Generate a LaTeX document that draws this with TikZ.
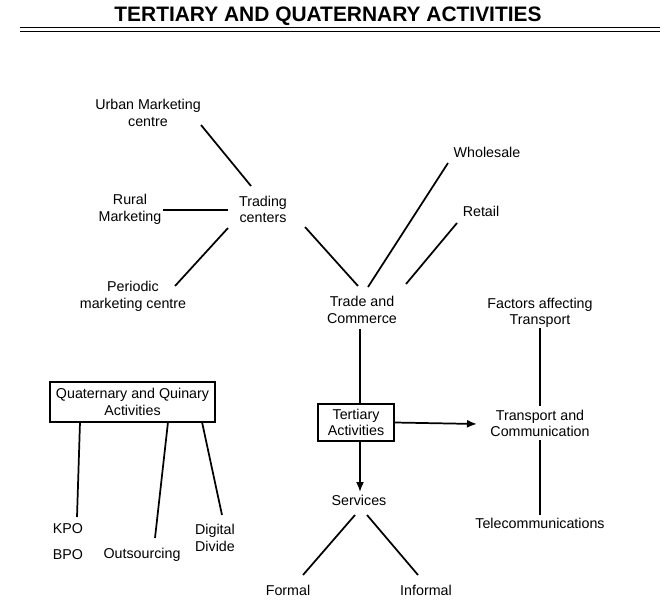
\documentclass[tikz,border=0pt]{standalone}
\usepackage{fontspec}
\setmainfont{Liberation Sans}
\usetikzlibrary{arrows.meta}
\begin{document}
\begin{tikzpicture}[x=0.75pt,y=-0.75pt,
  lbl/.style={inner sep=0pt,align=center,font=\fontsize{10.7pt}{12.4pt}\selectfont},
  boxed/.style={lbl,draw,line width=0.9pt},
  conn/.style={line width=1.3pt},
  arr/.style={conn,-{Latex[length=7.5pt,width=6pt]}}]
\useasboundingbox (0,0) rectangle (666,605);
% title
\node[anchor=base,inner sep=0pt,font=\bfseries\fontsize{15.7pt}{18pt}\selectfont] (title) at (328,22) {TERTIARY AND QUATERNARY ACTIVITIES};
\coordinate (r1a) at (20,27.5); \coordinate (r1b) at (660,27.5);
\coordinate (r2a) at (20,31.5); \coordinate (r2b) at (660,31.5);
\draw[line width=0.9pt] (r1a) -- (r1b);
\draw[line width=0.9pt] (r2a) -- (r2b);
% nodes
\node[lbl] (U) at (148,113) {Urban Marketing\\centre};
\node[lbl] (R) at (130,209.5) {Rural\\Marketing};
\node[lbl] (T) at (263,209.5) {Trading\\centers};
\node[lbl] (P) at (133,296.5) {Periodic\\marketing centre};
\node[lbl] (W) at (487,152) {Wholesale};
\node[lbl] (Re) at (481,211) {Retail};
\node[lbl] (C) at (362,310) {Trade and\\Commerce};
\node[lbl] (F) at (540,313) {Factors affecting\\Transport};
\node[boxed,minimum width=123.75pt,minimum height=30pt] (Q) at (132.5,402) {Quaternary and Quinary\\Activities};
\node[boxed,minimum width=57pt,minimum height=27.75pt] (Te) at (356,422.5) {Tertiary\\Activities};
\node[lbl] (Tr) at (540,423.5) {Transport and\\Communication};
\node[lbl] (S) at (359,500) {Services};
\node[lbl] (Tc) at (540,523) {Telecommunications};
\node[lbl] (Fo) at (288,590) {Formal};
\node[lbl] (I) at (426,590) {Informal};
\node[lbl] (K) at (68,529) {KPO};
\node[lbl] (B) at (68,555) {BPO};
\node[lbl] (O) at (142,555) {Outsourcing};
\node[lbl] (D) at (215,538) {Digital\\Divide};
% connectors
\draw[conn] ([shift={(53,12)}]U.center) -- ([shift={(-12,-23.5)}]T.center);
\draw[conn] ([shift={(33,0.5)}]R.center) -- ([shift={(-35,0.5)}]T.center);
\draw[conn] ([shift={(42,-10.5)}]P.center) -- ([shift={(-35,18.5)}]T.center);
\draw[conn] ([shift={(42,17.5)}]T.center) -- ([shift={(-4,-24)}]C.center);
\draw[conn] ([shift={(-39,11)}]W.center) -- ([shift={(6,-23)}]C.center);
\draw[conn] ([shift={(-24,12)}]Re.center) -- ([shift={(44,-26)}]C.center);
\draw[conn] ([shift={(-2,19)}]C.center) -- ([shift={(4,-18.5)}]Te.center);
\draw[arr] ([shift={(4,18.5)}]Te.center) -- ([shift={(1,-8)}]S.center);
\draw[arr] (Te.east) -- ([shift={(-63,0.5)}]Tr.center);
\draw[conn] ([shift={(0,15)}]F.center) -- ([shift={(0,-18)}]Tr.center);
\draw[conn] ([shift={(0,16.5)}]Tr.center) -- ([shift={(0,-8)}]Tc.center);
\draw[conn] ([shift={(-4,15)}]S.center) -- ([shift={(15,-15)}]Fo.center);
\draw[conn] ([shift={(8,15)}]S.center) -- ([shift={(-8,-15)}]I.center);
\draw[conn] ([shift={(-52.5,20)}]Q.center) -- ([shift={(9,-12)}]K.center);
\draw[conn] ([shift={(35.5,20)}]Q.center) -- ([shift={(13,-17)}]O.center);
\draw[conn] ([shift={(69.5,20)}]Q.center) -- ([shift={(7,-23)}]D.center);
\end{tikzpicture}
\end{document}
